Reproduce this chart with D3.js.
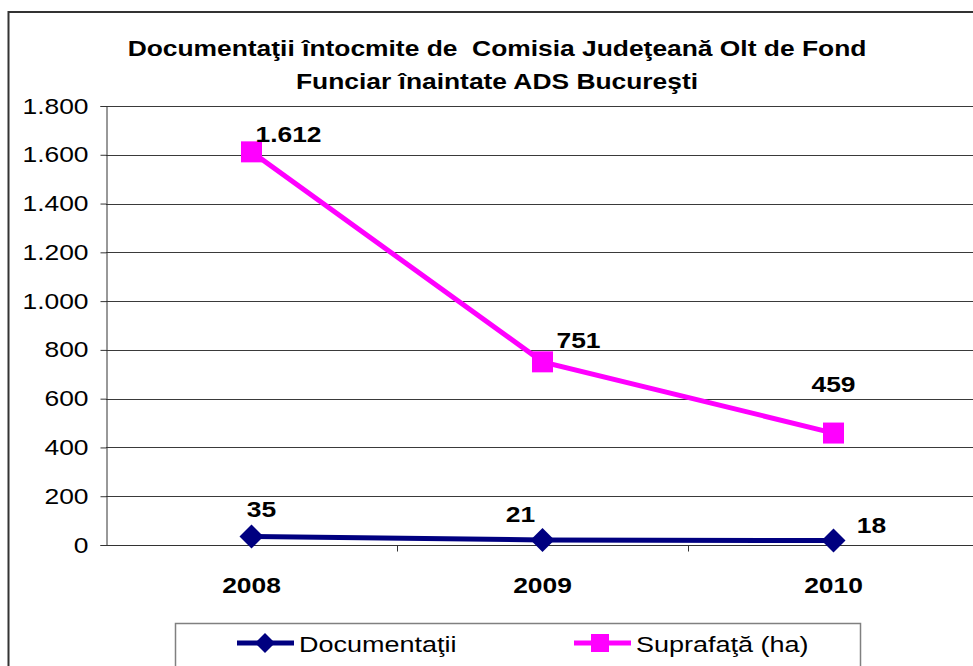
<!DOCTYPE html>
<html>
<head>
<meta charset="utf-8">
<script src="https://cdn.jsdelivr.net/npm/d3@7"></script>
<style>
  body { margin: 0; background: #fff; }
  text { font-family: "Liberation Sans", Arial, sans-serif; white-space: pre; }
</style>
</head>
<body>
<div id="chart"></div>
<script>
// values
const years = ["2008", "2009", "2010"];
const documentatii = [35, 21, 18];
const suprafata = [1612, 751, 459];
const yTicks = [0, 200, 400, 600, 800, 1000, 1200, 1400, 1600, 1800];
const seriesNames = ["Documentaţii", "Suprafaţă (ha)"];
const titleLines = ["Documentaţii întocmite de  Comisia Judeţeană Olt de Fond",
                    "Funciar înaintate ADS Bucureşti"];

// where each data label sits relative to its point (hand placed, like in Excel)
const docLabelOff = [[10, -19], [-22, -18], [38, -8]];
const supLabelOff = [[4, -10], [14, -14], [0, -41]];

const W = 973, H = 666;
const SX = 1.2; // the original text is a bit wider than plain Arial

const svg = d3.select("#chart").append("svg")
  .attr("width", W).attr("height", H);

// stretched text helper
function label(g, x, y, str, size, bold, anchor) {
  return g.append("text")
    .attr("transform", `translate(${x},${y}) scale(${SX},1)`)
    .attr("text-anchor", anchor || "start")
    .attr("font-size", size)
    .attr("font-weight", bold ? "bold" : "normal")
    .attr("fill", "#000")
    .text(str);
}

// outer chart border (runs off the right and bottom of the window)
svg.append("rect")
  .attr("x", 8.5).attr("y", 12)
  .attr("width", 1000).attr("height", 700)
  .attr("fill", "none").attr("stroke", "#333").attr("stroke-width", 2);

const x = d3.scaleBand().domain(years).range([106, 979]);
const y = d3.scaleLinear().domain([0, 1800]).range([545, 106]);
const cx = d => x(d) + x.bandwidth() / 2;
const fmt = v => d3.format(",")(v).replace(/,/g, ".");

// grid
svg.append("g").selectAll("line")
  .data(yTicks.filter(d => d > 0))
  .join("line")
  .attr("x1", 106).attr("x2", 979)
  .attr("y1", d => Math.round(y(d)) + 0.5).attr("y2", d => Math.round(y(d)) + 0.5)
  .attr("stroke", "#3a3a3a").attr("stroke-width", 1);

// y axis
const yAxis = svg.append("g")
  .attr("transform", "translate(106.5,0)")
  .call(d3.axisLeft(y).tickValues(yTicks).tickSize(6).tickFormat(fmt));
yAxis.select(".domain").attr("stroke", "#333");
yAxis.selectAll(".tick line").attr("stroke", "#333");
yAxis.selectAll(".tick text")
  .attr("x", -18 / SX)
  .attr("transform", `scale(${SX},1)`)
  .attr("font-size", 22).attr("fill", "#000")
  .attr("font-family", "Liberation Sans, Arial, sans-serif");

// x axis with ticks between categories
const xAxis = svg.append("g").attr("transform", "translate(0,545.5)");
xAxis.append("line").attr("x1", 106).attr("x2", 979).attr("stroke", "#333");
xAxis.selectAll("line.tk")
  .data(years.slice(1))
  .join("line").attr("class", "tk")
  .attr("x1", d => x(d) + 0.5).attr("x2", d => x(d) + 0.5)
  .attr("y1", 0).attr("y2", 6).attr("stroke", "#333");
years.forEach(d => label(xAxis, cx(d), 47, d, 22, true, "middle"));

// lines
const line = d3.line().x(d => cx(d[0])).y(d => y(d[1]));
const supData = years.map((d, i) => [d, suprafata[i]]);
const docData = years.map((d, i) => [d, documentatii[i]]);

svg.append("path").datum(supData).attr("d", line)
  .attr("fill", "none").attr("stroke", "#ff00ff").attr("stroke-width", 5);
svg.append("path").datum(docData).attr("d", line)
  .attr("fill", "none").attr("stroke", "#000080").attr("stroke-width", 5);

// markers
svg.append("g").selectAll("rect")
  .data(supData).join("rect")
  .attr("x", d => cx(d[0]) - 10.5).attr("y", d => y(d[1]) - 10.5)
  .attr("width", 21).attr("height", 21).attr("fill", "#ff00ff");
const diamond = s => `M0,${-s}L${s},0L0,${s}L${-s},0Z`;
svg.append("g").selectAll("path")
  .data(docData).join("path")
  .attr("transform", d => `translate(${cx(d[0])},${y(d[1])})`)
  .attr("d", diamond(12)).attr("fill", "#000080");

// data labels
const lab = svg.append("g");
supData.forEach((d, i) => label(lab, cx(d[0]) + supLabelOff[i][0], y(d[1]) + supLabelOff[i][1],
  fmt(d[1]), 22, true, i == 2 ? "middle" : "start"));
docData.forEach((d, i) => label(lab, cx(d[0]) + docLabelOff[i][0], y(d[1]) + docLabelOff[i][1],
  fmt(d[1]), 22, true, "middle"));

// title
const tg = svg.append("g");
titleLines.forEach((t, i) => label(tg, 497, 56 + i * 33, t, 22, true, "middle"));

// legend
const lg = svg.append("g");
lg.append("rect").attr("x", 175.5).attr("y", 623.5)
  .attr("width", 685).attr("height", 60)
  .attr("fill", "#fff").attr("stroke", "#808080").attr("stroke-width", 1.5);
const legendX = [237, 574];
const colors = ["#000080", "#ff00ff"];
seriesNames.forEach((name, i) => {
  const g = lg.append("g").attr("transform", `translate(${legendX[i]},643)`);
  g.append("line").attr("x1", 0).attr("x2", 57)
    .attr("stroke", colors[i]).attr("stroke-width", 5);
  if (i == 0) g.append("path").attr("d", diamond(10)).attr("transform", "translate(28,0)").attr("fill", colors[i]);
  else g.append("rect").attr("x", 17).attr("y", -9).attr("width", 18).attr("height", 18).attr("fill", colors[i]);
  label(g, 62, 9, name, 22.5, false, "start");
});
</script>
</body>
</html>
